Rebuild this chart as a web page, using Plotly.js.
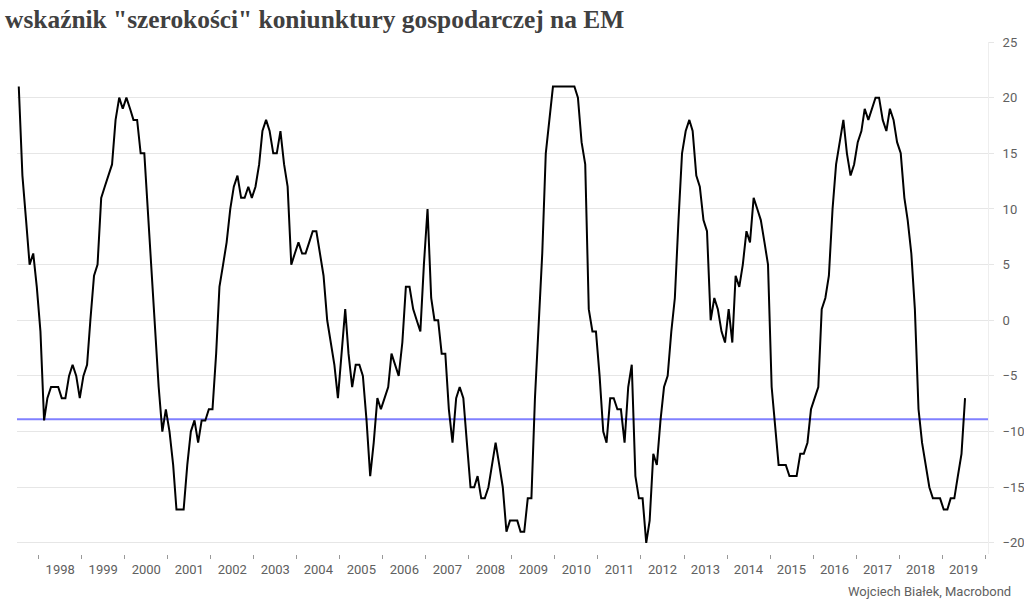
<!DOCTYPE html>
<html>
<head>
<meta charset="utf-8">
<script src="https://cdn.plot.ly/plotly-3.0.1.min.js"></script>
<style>
  html, body { margin: 0; padding: 0; background: #ffffff; }
  #chart { width: 1024px; height: 611px; }
</style>
</head>
<body>
<div id="chart"></div>
<script>
// Monthly series, first point July 1997, last point July 2019
const startYear = 1997;
const startMonth = 7;
const values = [
  21, 13, 9, 5, 6, 3,                               // 1997 Jul-Dec
  -1, -9, -7, -6, -6, -6, -7, -7, -5, -4, -5, -7,   // 1998
  -5, -4, 0, 4, 5, 11, 12, 13, 14, 18, 20, 19,      // 1999
  20, 19, 18, 18, 15, 15, 10, 5, 0, -6, -10, -8,    // 2000
  -10, -13, -17, -17, -17, -13, -10, -9, -11, -9, -9, -8, // 2001
  -8, -3, 3, 5, 7, 10, 12, 13, 11, 11, 12, 11,      // 2002
  12, 14, 17, 18, 17, 15, 15, 17, 14, 12, 5, 6,     // 2003
  7, 6, 6, 7, 8, 8, 6, 4, 0, -2, -4, -7,            // 2004
  -3, 1, -3, -6, -4, -4, -5, -9, -14, -11, -7, -8,  // 2005
  -7, -6, -3, -4, -5, -2, 3, 3, 1, 0, -1, 5,        // 2006
  10, 2, 0, 0, -3, -3, -8, -11, -7, -6, -7, -11,    // 2007
  -15, -15, -14, -16, -16, -15, -13, -11, -13, -15, -19, -18, // 2008
  -18, -18, -19, -19, -16, -16, -7, 0, 6, 15, 18, 21, // 2009
  21, 21, 21, 21, 21, 21, 20, 16, 14, 1, -1, -1,    // 2010
  -5, -10, -11, -7, -7, -8, -8, -11, -6, -4, -14, -16, // 2011
  -16, -20, -18, -12, -13, -9, -6, -5, -1, 2, 9, 15, // 2012
  17, 18, 17, 13, 12, 9, 8, 0, 2, 1, -1, -2,        // 2013
  1, -2, 4, 3, 5, 8, 7, 11, 10, 9, 7, 5,            // 2014
  -6, -10, -13, -13, -13, -14, -14, -14, -12, -12, -11, -8, // 2015
  -7, -6, 1, 2, 4, 10, 14, 16, 18, 15, 13, 14,      // 2016
  16, 17, 19, 18, 19, 20, 20, 18, 17, 19, 18, 16,   // 2017
  15, 11, 9, 6, 1, -8, -11, -13, -15, -16, -16, -16, // 2018
  -17, -17, -16, -16, -14, -12, -7                  // 2019 Jan-Jul
];
const threshold = -8.9;
const yTicks = [-20, -15, -10, -5, 0, 5, 10, 15, 20, 25];
const yearLabels = ['1998', '1999', '2000', '2001', '2002', '2003', '2004', '2005',
  '2006', '2007', '2008', '2009', '2010', '2011', '2012', '2013', '2014', '2015',
  '2016', '2017', '2018', '2019'];
const titleText = 'wskaźnik "szerokości" koniunktury gospodarczej na EM';
const sourceText = 'Wojciech Białek, Macrobond';

// monthly dates (mid-month)
const dates = values.map((v, i) => {
  const t = (startMonth - 1) + i;
  const y = startYear + Math.floor(t / 12);
  const m = (t % 12) + 1;
  return y + '-' + String(m).padStart(2, '0') + '-15';
});
// year labels sit in the middle of each year
const yearLabelPos = yearLabels.map(y => y + '-07-02');

const labelFont = { family: 'Roboto, "Open Sans", sans-serif', size: 13, color: '#606060' };

const traces = [{
  type: 'scatter',
  mode: 'lines',
  x: dates,
  y: values,
  line: { color: '#000000', width: 2 },
  hoverinfo: 'x+y',
  showlegend: false
}];

const layout = {
  width: 1024,
  height: 611,
  margin: { l: 17, r: 36, t: 42, b: 57, pad: 0 },
  paper_bgcolor: '#ffffff',
  plot_bgcolor: '#ffffff',
  showlegend: false,
  title: {
    text: titleText,
    font: { family: '"Liberation Serif", "DejaVu Serif", serif', size: 25.4, color: '#404040', weight: 'bold' },
    xref: 'container', x: 0.005, xanchor: 'left',
    yref: 'container', y: 0.968, yanchor: 'middle'
  },
  xaxis: {
    type: 'date',
    range: ['1997-06-30', '2020-01-26'],
    tickmode: 'array',
    tickvals: yearLabelPos,
    ticktext: yearLabels,
    ticks: '',
    minor: {
      tick0: '1998-01-01',
      dtick: 'M12',
      ticks: 'outside',
      ticklen: 4,
      tickwidth: 1,
      tickcolor: '#999999',
      showgrid: false
    },
    showgrid: false,
    showline: false,
    zeroline: false,
    tickfont: labelFont,
    ticklabelstandoff: 6,
    fixedrange: true
  },
  yaxis: {
    side: 'right',
    range: [-21, 25],
    tickvals: yTicks,
    ticks: 'outside',
    ticklen: 5,
    tickcolor: '#e6e6e6',
    showgrid: true,
    gridcolor: '#e6e6e6',
    gridwidth: 1,
    showline: true,
    linecolor: '#eeeeee',
    linewidth: 1,
    zeroline: false,
    tickfont: labelFont,
    ticklabelstandoff: 6,
    fixedrange: true
  },
  shapes: [{
    type: 'line',
    xref: 'paper', x0: 0, x1: 1,
    yref: 'y', y0: threshold, y1: threshold,
    line: { color: '#8080ff', width: 2 },
    layer: 'below'
  }],
  annotations: [{
    text: sourceText,
    xref: 'paper', x: 1.0257, xanchor: 'right',
    yref: 'paper', y: -0.073, yanchor: 'middle',
    showarrow: false,
    font: labelFont
  }]
};

Plotly.newPlot('chart', traces, layout, { displayModeBar: false, staticPlot: true });
</script>
</body>
</html>
